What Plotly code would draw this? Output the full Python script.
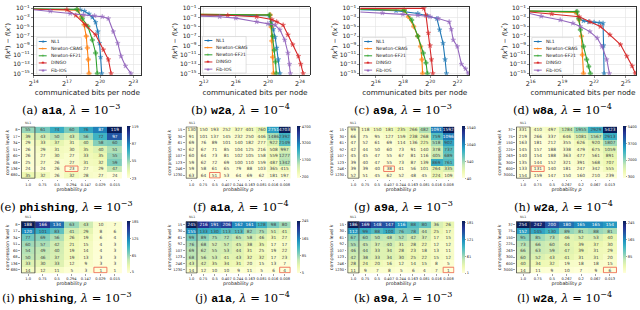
import math
import plotly.graph_objects as go

W, H = 640, 310
L2 = math.log10(2)

# ---------------- line charts (x: log2 of bits, y: log10 of gap) ----------------
methods = ["NL1", "Newton-CBAG", "Newton-EF21", "DINGO", "Fib-IOS"]
colors = ["#1f77b4", "#ff7f0e", "#2ca02c", "#d62728", "#9467bd"]
symbols = ["star", "cross", "cross", "star", "star"]
legend_glyphs = ["★", "+", "+", "★", "★"]

# (a) a1a
a_nl1_x = [14, 18.2, 18.6, 19.0, 19.3, 19.6, 19.8, 19.95, 20.05, 20.15]
a_nl1_y = [-1.2, -1.3, -1.6, -2.2, -2.9, -4.0, -6.0, -8.5, -11.5, -15]
a_cbag_x = [14, 18.0, 18.3, 18.55, 18.75, 18.85, 18.93, 19.0]
a_cbag_y = [-1.2, -1.4, -2.8, -4.5, -7.0, -9.5, -12.0, -15]
a_ef21_x = [14, 17.9, 18.4, 18.9, 19.3, 19.6, 19.75]
a_ef21_y = [-1.1, -1.2, -3.2, -4.9, -7.8, -10.6, -15]
a_dingo_x = [14, 17.0, 17.8, 18.7, 19.6, 20.3, 20.75, 21.0]
a_dingo_y = [-1.2, -1.3, -2.5, -4.6, -6.7, -9.9, -12.0, -15]
a_fib_x = [14, 15.5, 17.3, 18.5, 19.5, 20.2, 20.75, 21.2, 21.6, 21.9, 22.3, 22.8]
a_fib_y = [-1.3, -1.6, -2.1, -2.4, -2.6, -2.8, -3.2, -6.0, -8.5, -11.3, -13.4, -15]

# (b) w2a
b_nl1_x = [11.6, 20.2, 20.45, 20.7, 20.9, 21.1, 21.3, 21.5]
b_nl1_y = [-2.4, -2.6, -4.0, -5.5, -7.2, -9.5, -12, -15]
b_cbag_x = [11.6, 20.3, 20.4, 20.5, 20.6, 20.7]
b_cbag_y = [-2.3, -2.4, -5, -8, -11.5, -15]
b_ef21_x = [11.6, 20.2, 20.4, 20.6, 20.8, 20.95, 21.05]
b_ef21_y = [-2.3, -2.4, -4.5, -7, -10, -12.5, -15]
b_dingo_x = [11.6, 15, 18.6, 20.5, 21.1, 21.9, 22.5, 23.1, 23.8, 24.1, 24.4]
b_dingo_y = [-2.4, -2.5, -2.8, -3.4, -3.9, -4.6, -6.7, -8.8, -11.3, -13, -15]
b_fib_x = [11.6, 14, 16, 18.6, 20.0, 20.9, 21.5, 22.1, 22.5, 22.7, 22.8]
b_fib_y = [-2.7, -2.8, -3.1, -3.9, -4.3, -4.6, -5.6, -7.8, -10.6, -13, -15]

# (c) a9a
c_nl1_x = [14.87, 17.5, 19.1, 19.8, 20.5, 20.7, 20.95, 21.1, 21.2]
c_nl1_y = [-1.3, -1.5, -2.1, -2.6, -3.2, -5.6, -8.5, -12, -15]
c_cbag_x = [14.87, 18.1, 18.4, 18.8, 19.1, 19.3, 19.4, 19.45]
c_cbag_y = [-1.2, -1.4, -2.8, -4.9, -7.0, -9.2, -12, -15]
c_ef21_x = [14.87, 18.1, 18.65, 19.1, 19.5, 19.7, 19.8]
c_ef21_y = [-1.2, -1.4, -3.5, -7.0, -10.6, -12.7, -15]
c_dingo_x = [14.87, 19.55, 19.7, 19.87, 20.0, 20.1, 20.2]
c_dingo_y = [-1.0, -1.0, -2.5, -6.3, -9, -12, -15]
c_fib_x = [14.87, 16.5, 18.0, 19.1, 20.0, 20.6, 21.4, 21.55, 21.7, 22.0, 22.3, 22.6, 22.8]
c_fib_y = [-1.8, -2.0, -2.3, -2.5, -2.8, -3.2, -3.9, -5.5, -7.8, -9.2, -13, -14, -15]

# (d) w8a
d_nl1_x = [15.93, 20.3, 20.6, 21.0, 21.5, 22.0, 22.5, 22.85, 22.9, 22.95]
d_nl1_y = [-1.6, -1.8, -3.2, -3.7, -3.9, -4.0, -4.1, -4.2, -9, -15]
d_cbag_x = [15.93, 20.3, 20.6, 20.8, 20.9, 21.0]
d_cbag_y = [-1.6, -1.9, -3.5, -7, -11, -15]
d_ef21_x = [15.93, 20.4, 20.55, 20.7, 21.0, 21.3, 21.5, 21.65]
d_ef21_y = [-1.6, -1.7, -3.2, -5.6, -9.2, -12, -13.5, -15]
d_dingo_x = [15.93, 18, 20.6, 21.6, 22.6, 23.5, 24.5, 25.1, 25.6, 25.9]
d_dingo_y = [-1.8, -2.2, -2.8, -3.9, -4.9, -6.7, -8.8, -11.3, -13.4, -15]
d_fib_x = [15.93, 17, 18.8, 20.0, 20.7, 21.6, 22.3, 22.75, 23.2, 23.45]
d_fib_y = [-2.1, -2.7, -3.5, -4.2, -4.9, -6.0, -7.4, -9.2, -12, -15]

y_tick_exps = [1, 3, 5, 7, 9, 11, 13, 15]
a_xticks = [14, 17, 20, 23]
b_xticks = [12, 16, 20, 24]
c_xticks = [16, 18, 20, 22]
d_xticks = [16, 19, 22, 25]

# ---------------- heatmaps ----------------
phish_rows = ["8", "17", "34", "51", "60", "68", "136", "680"]
phish_cols = ["1.0", "0.75", "0.5", "0.294", "0.147", "0.029", "0.015"]
a1a_rows = ["15", "30", "61", "92", "107", "123", "246", "1230"]
a1a_cols = ["1.0", "0.75", "0.5", "0.407", "0.244", "0.163", "0.081", "0.016", "0.008"]
w2a_rows = ["37", "75", "150", "225", "263", "300", "600", "3000"]
w2a_cols = ["1.0", "0.75", "0.5", "0.267", "0.2", "0.067", "0.013"]

e_vals = [
    [55, 61, 74, 60, 76, 87, 119],
    [39, 43, 50, 43, 56, 72, 97],
    [29, 33, 37, 31, 40, 58, 60],
    [26, 29, 31, 30, 35, 40, 51],
    [26, 27, 30, 27, 33, 35, 55],
    [25, 27, 26, 27, 31, 32, 59],
    [24, 24, 26, 23, 27, 29, 47],
    [35, 32, 26, 32, 28, 27, 24],
]
f_vals = [
    [130, 150, 193, 252, 327, 401, 760, 2751, 4703],
    [91, 101, 137, 145, 232, 250, 446, 1486, 2392],
    [69, 76, 89, 101, 140, 182, 277, 922, 2149],
    [62, 67, 71, 85, 104, 125, 216, 508, 997],
    [60, 64, 73, 81, 102, 105, 158, 559, 1277],
    [59, 62, 72, 69, 100, 110, 159, 487, 1342],
    [59, 58, 61, 65, 79, 88, 103, 365, 415],
    [63, 64, 51, 53, 64, 69, 62, 181, 197],
]
g_vals = [
    [99, 118, 150, 181, 235, 266, 482, 1091, 1592],
    [66, 75, 95, 127, 159, 238, 268, 759, 1096],
    [47, 52, 61, 69, 114, 136, 225, 518, 902],
    [42, 44, 50, 60, 73, 91, 140, 378, 737],
    [45, 45, 47, 55, 67, 81, 116, 405, 689],
    [39, 40, 47, 55, 73, 87, 139, 869, 761],
    [39, 39, 40, 38, 41, 56, 101, 264, 335],
    [52, 51, 45, 62, 52, 48, 45, 224, 109],
]
h_vals = [
    [331, 410, 497, 1284, 1955, 2929, 5423],
    [219, 266, 337, 646, 1081, 1567, 2913],
    [163, 181, 212, 355, 626, 920, 1807],
    [145, 157, 188, 338, 479, 675, 1059],
    [140, 154, 188, 363, 477, 561, 891],
    [135, 144, 152, 321, 391, 568, 707],
    [133, 131, 140, 181, 247, 342, 555],
    [154, 159, 147, 150, 160, 210, 239],
]
i_vals = [
    [188, 166, 134, 63, 43, 10, 7],
    [120, 101, 83, 41, 29, 8, 6],
    [77, 69, 56, 26, 19, 6, 4],
    [60, 57, 42, 21, 15, 4, 3],
    [54, 49, 40, 19, 14, 4, 3],
    [50, 46, 37, 19, 13, 3, 3],
    [33, 30, 33, 12, 9, 3, 3],
    [14, 12, 11, 5, 3, 1, 1],
]
j_vals = [
    [245, 216, 191, 206, 162, 161, 128, 98, 80],
    [155, 133, 130, 113, 113, 82, 75, 51, 41],
    [99, 89, 75, 72, 65, 58, 46, 31, 27],
    [76, 68, 52, 57, 45, 38, 35, 17, 17],
    [69, 62, 55, 53, 44, 31, 25, 19, 22],
    [68, 56, 53, 41, 43, 32, 32, 17, 23],
    [43, 42, 35, 34, 31, 20, 15, 13, 7],
    [14, 12, 10, 10, 9, 11, 5, 6, 4],
]
k_vals = [
    [186, 169, 148, 147, 116, 88, 80, 36, 26],
    [112, 99, 88, 100, 76, 78, 44, 25, 17],
    [67, 60, 50, 48, 52, 42, 37, 17, 15],
    [55, 45, 37, 40, 31, 28, 22, 12, 12],
    [46, 44, 33, 34, 28, 23, 18, 13, 11],
    [42, 38, 33, 34, 30, 25, 22, 15, 12],
    [28, 24, 20, 16, 12, 14, 15, 8, 5],
    [11, 9, 7, 8, 5, 6, 4, 7, 1],
]
l_vals = [
    [254, 242, 200, 180, 165, 165, 154],
    [152, 145, 130, 89, 81, 88, 81],
    [95, 85, 73, 46, 52, 53, 40],
    [73, 66, 60, 44, 39, 37, 30],
    [66, 63, 59, 47, 39, 31, 29],
    [60, 52, 43, 41, 31, 31, 20],
    [40, 34, 32, 19, 18, 18, 15],
    [14, 11, 9, 10, 7, 9, 6],
]
e_cbticks = [23, 55, 87, 119]
f_cbticks = [200, 1700, 3200, 4700]
g_cbticks = [40, 540, 1040, 1540]
h_cbticks = [300, 2000, 3700, 5400]
i_cbticks = [5, 65, 125, 185]
j_cbticks = [5, 85, 165, 245]
k_cbticks = [1, 61, 121, 181]
l_cbticks = [5, 85, 165, 245]
# highlighted (row, column) cells
e_best, f_best, g_best, h_best = (6, 3), (7, 2), (6, 3), (6, 1)
i_best, j_best, k_best, l_best = (7, 5), (7, 8), (7, 8), (7, 6)

captions = [
    ("a", "a1a", "3"), ("b", "w2a", "4"), ("c", "a9a", "3"), ("d", "w8a", "4"),
    ("e", "phishing", "3"), ("f", "a1a", "4"), ("g", "a9a", "3"), ("h", "w2a", "4"),
    ("i", "phishing", "3"), ("j", "a1a", "4"), ("k", "a9a", "3"), ("l", "w2a", "4"),
]

YLGNBU = [[0.0, "#ffffd9"], [0.125, "#edf8b1"], [0.25, "#c7e9b4"], [0.375, "#7fcdbb"],
          [0.5, "#41b6c4"], [0.625, "#1d91c0"], [0.75, "#225ea8"], [0.875, "#253494"],
          [1.0, "#081d58"]]


def fx(p):
    return p / W


def fy(p):
    return 1 - p / H


def names(i):
    s = "" if i == 1 else str(i)
    return "xaxis" + s, "yaxis" + s, "x" + s, "y" + s


fig = go.Figure()
layout = {}
shapes = []
annotations = []

line_panels = [
    (1, [(a_nl1_x, a_nl1_y), (a_cbag_x, a_cbag_y), (a_ef21_x, a_ef21_y), (a_dingo_x, a_dingo_y), (a_fib_x, a_fib_y)],
     (14, 23.7), a_xticks, (29, 137), (32, 35, 77, 72)),
    (2, [(b_nl1_x, b_nl1_y), (b_cbag_x, b_cbag_y), (b_ef21_x, b_ef21_y), (b_dingo_x, b_dingo_y), (b_fib_x, b_fib_y)],
     (11.6, 25.2), b_xticks, (197, 307), (199, 34, 243, 71)),
    (3, [(c_nl1_x, c_nl1_y), (c_cbag_x, c_cbag_y), (c_ef21_x, c_ef21_y), (c_dingo_x, c_dingo_y), (c_fib_x, c_fib_y)],
     (14.87, 22.88), c_xticks, (358, 468), (360, 35, 404, 72)),
    (4, [(d_nl1_x, d_nl1_y), (d_cbag_x, d_cbag_y), (d_ef21_x, d_ef21_y), (d_dingo_x, d_dingo_y), (d_fib_x, d_fib_y)],
     (15.93, 25.97), d_xticks, (529, 636), (531, 35, 573, 72)),
]

for i, series, xr, xt, (px0, px1), (lx0, ly0, lx1, ly1) in line_panels:
    xa, ya, xr_, yr_ = names(i)
    for k, (xs, ys) in enumerate(series):
        fig.add_trace(go.Scatter(
            x=[2 ** v for v in xs], y=[10 ** v for v in ys], mode="lines+markers",
            line=dict(color=colors[k], width=1.1),
            marker=dict(symbol=symbols[k], size=[0] + [3.6] * (len(xs) - 1), color=colors[k],
                        line=dict(width=0.6, color=colors[k])),
            xaxis=xr_, yaxis=yr_, showlegend=False, hoverinfo="skip"))
    layout[xa] = dict(
        domain=[fx(px0), fx(px1)], type="log", range=[xr[0] * L2, xr[1] * L2],
        tickvals=[2 ** t for t in xt], ticktext=[f"2<sup>{t}</sup>" for t in xt],
        anchor=yr_, showline=True, mirror=True, linecolor="black", linewidth=0.8,
        ticks="outside", ticklen=2, tickwidth=0.6, tickfont=dict(size=6.5), tickangle=0,
        showgrid=True, gridcolor="#e3e3e3", gridwidth=0.6, zeroline=False,
        title=dict(text="communicated bits per node", font=dict(size=7.3), standoff=1))
    layout[ya] = dict(
        domain=[fy(73), fy(4)], type="log", range=[-15.35, -0.7],
        tickvals=[10 ** (-e) for e in y_tick_exps], ticktext=[f"10<sup>−{e}</sup>" for e in y_tick_exps],
        anchor=xr_, showline=True, mirror=True, linecolor="black", linewidth=0.8,
        ticks="outside", ticklen=2, tickwidth=0.6, tickfont=dict(size=6),
        showgrid=True, gridcolor="#e3e3e3", gridwidth=0.6, zeroline=False,
        title=dict(text="<i>f</i>(<i>x</i><sup><i>k</i></sup>) − <i>f</i>(<i>x</i><sup>*</sup>)",
                   font=dict(size=6.3), standoff=1))
    # legend box
    shapes.append(dict(type="rect", xref="paper", yref="paper", x0=fx(lx0), x1=fx(lx1), y0=fy(ly1), y1=fy(ly0),
                       line=dict(color="#cccccc", width=0.6), fillcolor="rgba(255,255,255,0.85)", layer="above"))
    step = (ly1 - ly0 - 8) / 4
    for k in range(5):
        yy = ly0 + 4 + k * step
        shapes.append(dict(type="line", xref="paper", yref="paper", x0=fx(lx0 + 2), x1=fx(lx0 + 10),
                           y0=fy(yy), y1=fy(yy), line=dict(color=colors[k], width=1), layer="above"))
        annotations.append(dict(xref="paper", yref="paper", x=fx(lx0 + 6), y=fy(yy), text=legend_glyphs[k],
                                showarrow=False, font=dict(size=4.5, color=colors[k]),
                                xanchor="center", yanchor="middle"))
        annotations.append(dict(xref="paper", yref="paper", x=fx(lx0 + 12), y=fy(yy), text=methods[k],
                                showarrow=False, font=dict(size=4.5, color="#222"),
                                xanchor="left", yanchor="middle"))

heat_panels = [
    (5, e_vals, phish_rows, phish_cols, (16, 118), (125, 178), 123, e_cbticks, e_best),
    (6, f_vals, a1a_rows, a1a_cols, (182, 288), (125, 178), 294, f_cbticks, f_best),
    (7, g_vals, a1a_rows, a1a_cols, (345, 453), (125, 178), 461, g_cbticks, g_best),
    (8, h_vals, w2a_rows, w2a_cols, (515, 617), (125, 178), 623, h_cbticks, h_best),
    (9, i_vals, phish_rows, phish_cols, (16, 118), (221, 274), 123, i_cbticks, i_best),
    (10, j_vals, a1a_rows, a1a_cols, (182, 288), (221, 274), 294, j_cbticks, j_best),
    (11, k_vals, a1a_rows, a1a_cols, (345, 453), (221, 274), 461, k_cbticks, k_best),
    (12, l_vals, w2a_rows, w2a_cols, (515, 617), (221, 274), 623, l_cbticks, l_best),
]

for i, z, rows, cols, (px0, px1), (py0, py1), cbx, cbt, best in heat_panels:
    xa, ya, xr_, yr_ = names(i)
    fig.add_trace(go.Heatmap(
        z=z, x=cols, y=rows, xaxis=xr_, yaxis=yr_, colorscale=YLGNBU,
        texttemplate="%{z}", textfont=dict(size=4.3), hoverinfo="skip",
        colorbar=dict(x=fx(cbx), xanchor="left", y=fy(py0), yanchor="top", len=(py1 - py0) / H,
                      thickness=3, outlinewidth=0, tickvals=cbt, tickfont=dict(size=3.6),
                      ticks="outside", ticklen=1.5, tickwidth=0.5, xpad=0, ypad=0)))
    layout[xa] = dict(domain=[fx(px0), fx(px1)], type="category", anchor=yr_, tickangle=0,
                      tickfont=dict(size=3.6), ticks="outside", ticklen=1.5, tickwidth=0.5,
                      showgrid=False, zeroline=False,
                      title=dict(text="probability <i>p</i>", font=dict(size=4.8), standoff=0))
    layout[ya] = dict(domain=[fy(py1), fy(py0)], type="category", anchor=xr_, autorange="reversed",
                      tickfont=dict(size=3.6), ticks="outside", ticklen=1.5, tickwidth=0.5, tickangle=0,
                      showgrid=False, zeroline=False,
                      title=dict(text="compression level <i>k</i>", font=dict(size=4.6), standoff=1))
    shapes.append(dict(type="rect", xref=xr_, yref=yr_, x0=-0.47, x1=0.47, y0=-0.47, y1=len(rows) - 0.53,
                       line=dict(color="#4a4a4a", width=0.9)))
    r, c = best
    shapes.append(dict(type="rect", xref=xr_, yref=yr_, x0=c - 0.45, x1=c + 0.45, y0=r - 0.42, y1=r + 0.42,
                       line=dict(color="#ef6a55", width=0.9)))
    annotations.append(dict(xref=xr_, yref=yr_, x=0, y=-0.5, text="NL1", showarrow=False,
                            font=dict(size=3.2, color="#333"), xanchor="center", yanchor="bottom"))

cap_pos = [(67, 108), (237, 108), (401, 108), (562, 108),
           (62, 206), (238, 206), (402, 206), (563, 206),
           (62, 298), (239, 298), (401, 298), (564, 298)]
for (letter, ds, ex), (cx, cy) in zip(captions, cap_pos):
    txt = (f"({letter}) <span style='font-family:Liberation Mono;font-weight:bold'>{ds}</span>, "
           f"<i>λ</i> = 10<sup>−{ex}</sup>")
    annotations.append(dict(xref="paper", yref="paper", x=fx(cx), y=fy(cy), text=txt, showarrow=False,
                            font=dict(size=11.5, family="DejaVu Serif", color="black"),
                            xanchor="center", yanchor="middle"))

fig.update_layout(
    width=W, height=H, autosize=False, margin=dict(l=0, r=0, t=0, b=0),
    paper_bgcolor="white", plot_bgcolor="white", showlegend=False,
    font=dict(family="DejaVu Sans", color="#222"),
    shapes=shapes, annotations=annotations, **layout)

fig.write_html("out.html", config={"displayModeBar": False, "staticPlot": True},
               post_script="document.body.style.margin='0';")
